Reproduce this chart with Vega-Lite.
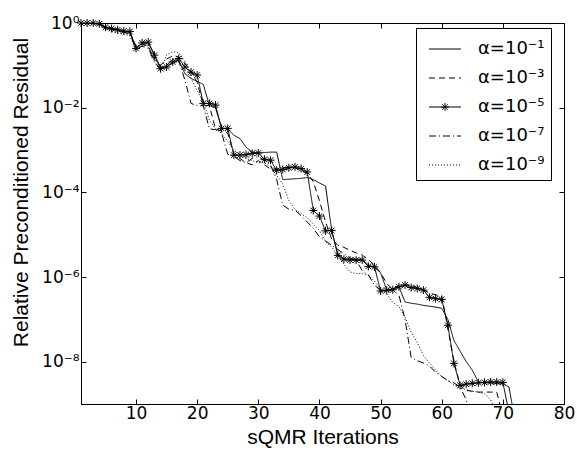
{
"$schema": "https://vega.github.io/schema/vega-lite/v6.json",
"width": 483,
"height": 381,
"autosize": {"type": "none"},
"padding": {"left": 81, "top": 23, "right": 13, "bottom": 55},
"background": "white",
"config": {
  "view": {"stroke": "black", "strokeWidth": 1},
  "font": "Liberation Sans",
  "axis": {"domainColor": "black", "tickColor": "black", "labelColor": "black", "titleColor": "black", "labelFont": "DejaVu Sans", "titleFont": "Liberation Sans", "labelFontSize": 17, "titleFontSize": 21, "titleFontWeight": "normal", "tickSize": -5, "grid": false, "labelFlush": false, "labelOverlap": false, "labelPadding": 9}
},
"data": {"values": [
{"i":1,"s":"α=10⁻¹","v":1},{"i":2,"s":"α=10⁻¹","v":1},{"i":3,"s":"α=10⁻¹","v":1},{"i":4,"s":"α=10⁻¹","v":0.955},{"i":5,"s":"α=10⁻¹","v":0.794},{"i":6,"s":"α=10⁻¹","v":0.724},{"i":7,"s":"α=10⁻¹","v":0.676},{"i":8,"s":"α=10⁻¹","v":0.631},{"i":9,"s":"α=10⁻¹","v":0.603},{"i":10,"s":"α=10⁻¹","v":0.263},
{"i":11,"s":"α=10⁻¹","v":0.331},{"i":12,"s":"α=10⁻¹","v":0.339},{"i":13,"s":"α=10⁻¹","v":0.182},{"i":14,"s":"α=10⁻¹","v":0.0891},{"i":15,"s":"α=10⁻¹","v":0.0933},{"i":16,"s":"α=10⁻¹","v":0.112},{"i":17,"s":"α=10⁻¹","v":0.132},{"i":18,"s":"α=10⁻¹","v":0.0631},{"i":19,"s":"α=10⁻¹","v":0.049},{"i":20,"s":"α=10⁻¹","v":0.0417},
{"i":21,"s":"α=10⁻¹","v":0.0355},{"i":22,"s":"α=10⁻¹","v":0.0112},{"i":23,"s":"α=10⁻¹","v":0.01},{"i":24,"s":"α=10⁻¹","v":0.00324},{"i":25,"s":"α=10⁻¹","v":0.00316},{"i":26,"s":"α=10⁻¹","v":0.00224},{"i":27,"s":"α=10⁻¹","v":0.00186},{"i":28,"s":"α=10⁻¹","v":0.00117},{"i":29,"s":"α=10⁻¹","v":8.91e-4},{"i":30,"s":"α=10⁻¹","v":8.51e-4},
{"i":31,"s":"α=10⁻¹","v":8.71e-4},{"i":32,"s":"α=10⁻¹","v":8.91e-4},{"i":33,"s":"α=10⁻¹","v":8.91e-4},{"i":34,"s":"α=10⁻¹","v":2.0e-4},{"i":35,"s":"α=10⁻¹","v":2.04e-4},{"i":36,"s":"α=10⁻¹","v":2.09e-4},{"i":37,"s":"α=10⁻¹","v":2.14e-4},{"i":38,"s":"α=10⁻¹","v":2.24e-4},{"i":39,"s":"α=10⁻¹","v":2.0e-4},{"i":40,"s":"α=10⁻¹","v":1.66e-4},
{"i":41,"s":"α=10⁻¹","v":1.41e-4},{"i":42,"s":"α=10⁻¹","v":1.26e-5},{"i":43,"s":"α=10⁻¹","v":3.55e-6},{"i":44,"s":"α=10⁻¹","v":2.69e-6},{"i":45,"s":"α=10⁻¹","v":2.63e-6},{"i":46,"s":"α=10⁻¹","v":2.63e-6},{"i":47,"s":"α=10⁻¹","v":2.63e-6},{"i":48,"s":"α=10⁻¹","v":1.91e-6},{"i":49,"s":"α=10⁻¹","v":1.7e-6},{"i":50,"s":"α=10⁻¹","v":1.26e-6},
{"i":51,"s":"α=10⁻¹","v":5.01e-7},{"i":52,"s":"α=10⁻¹","v":5.25e-7},{"i":53,"s":"α=10⁻¹","v":5.89e-7},{"i":54,"s":"α=10⁻¹","v":2.57e-7},{"i":55,"s":"α=10⁻¹","v":2.4e-7},{"i":56,"s":"α=10⁻¹","v":2.29e-7},{"i":57,"s":"α=10⁻¹","v":2.14e-7},{"i":58,"s":"α=10⁻¹","v":2.04e-7},{"i":59,"s":"α=10⁻¹","v":1.95e-7},{"i":60,"s":"α=10⁻¹","v":1.82e-7},
{"i":61,"s":"α=10⁻¹","v":1.0e-7},{"i":62,"s":"α=10⁻¹","v":3.16e-8},{"i":63,"s":"α=10⁻¹","v":1.78e-8},{"i":64,"s":"α=10⁻¹","v":1.0e-8},{"i":65,"s":"α=10⁻¹","v":6.31e-9},{"i":66,"s":"α=10⁻¹","v":3.31e-9},{"i":67,"s":"α=10⁻¹","v":3.16e-9},{"i":68,"s":"α=10⁻¹","v":3.16e-9},{"i":69,"s":"α=10⁻¹","v":3.02e-9},{"i":70,"s":"α=10⁻¹","v":3.02e-9},
{"i":71,"s":"α=10⁻¹","v":2.51e-9},{"i":72,"s":"α=10⁻¹","v":3.98e-10},

{"i":1,"s":"α=10⁻³","v":1},{"i":2,"s":"α=10⁻³","v":1},{"i":3,"s":"α=10⁻³","v":1},{"i":4,"s":"α=10⁻³","v":0.955},{"i":5,"s":"α=10⁻³","v":0.776},{"i":6,"s":"α=10⁻³","v":0.708},{"i":7,"s":"α=10⁻³","v":0.661},{"i":8,"s":"α=10⁻³","v":0.631},{"i":9,"s":"α=10⁻³","v":0.589},{"i":10,"s":"α=10⁻³","v":0.282},
{"i":11,"s":"α=10⁻³","v":0.316},{"i":12,"s":"α=10⁻³","v":0.282},{"i":13,"s":"α=10⁻³","v":0.141},{"i":14,"s":"α=10⁻³","v":0.1},{"i":15,"s":"α=10⁻³","v":0.141},{"i":16,"s":"α=10⁻³","v":0.166},{"i":17,"s":"α=10⁻³","v":0.158},{"i":18,"s":"α=10⁻³","v":0.112},{"i":19,"s":"α=10⁻³","v":0.0708},{"i":20,"s":"α=10⁻³","v":0.0398},
{"i":21,"s":"α=10⁻³","v":0.0112},{"i":22,"s":"α=10⁻³","v":0.0112},{"i":23,"s":"α=10⁻³","v":0.00316},{"i":24,"s":"α=10⁻³","v":0.00282},{"i":25,"s":"α=10⁻³","v":0.00251},{"i":26,"s":"α=10⁻³","v":7.94e-4},{"i":27,"s":"α=10⁻³","v":6.31e-4},{"i":28,"s":"α=10⁻³","v":5.01e-4},{"i":29,"s":"α=10⁻³","v":4.47e-4},{"i":30,"s":"α=10⁻³","v":5.62e-4},
{"i":31,"s":"α=10⁻³","v":4.47e-4},{"i":32,"s":"α=10⁻³","v":3.55e-4},{"i":33,"s":"α=10⁻³","v":3.55e-4},{"i":34,"s":"α=10⁻³","v":3.8e-4},{"i":35,"s":"α=10⁻³","v":3.98e-4},{"i":36,"s":"α=10⁻³","v":3.8e-4},{"i":37,"s":"α=10⁻³","v":3.31e-4},{"i":38,"s":"α=10⁻³","v":2.82e-4},{"i":39,"s":"α=10⁻³","v":1.78e-4},{"i":40,"s":"α=10⁻³","v":6.31e-5},
{"i":41,"s":"α=10⁻³","v":2.0e-5},{"i":42,"s":"α=10⁻³","v":7.94e-6},{"i":43,"s":"α=10⁻³","v":5.62e-6},{"i":44,"s":"α=10⁻³","v":5.01e-6},{"i":45,"s":"α=10⁻³","v":4.27e-6},{"i":46,"s":"α=10⁻³","v":3.72e-6},{"i":47,"s":"α=10⁻³","v":3.31e-6},{"i":48,"s":"α=10⁻³","v":2.57e-6},{"i":49,"s":"α=10⁻³","v":1.91e-6},{"i":50,"s":"α=10⁻³","v":1.26e-6},
{"i":51,"s":"α=10⁻³","v":7.08e-7},{"i":52,"s":"α=10⁻³","v":5.01e-7},{"i":53,"s":"α=10⁻³","v":6.31e-7},{"i":54,"s":"α=10⁻³","v":6.61e-7},{"i":55,"s":"α=10⁻³","v":6.31e-7},{"i":56,"s":"α=10⁻³","v":5.62e-7},{"i":57,"s":"α=10⁻³","v":5.01e-7},{"i":58,"s":"α=10⁻³","v":4.17e-7},{"i":59,"s":"α=10⁻³","v":3.8e-7},{"i":60,"s":"α=10⁻³","v":3.55e-7},
{"i":61,"s":"α=10⁻³","v":6.31e-8},{"i":62,"s":"α=10⁻³","v":1.0e-8},{"i":63,"s":"α=10⁻³","v":2.82e-9},{"i":64,"s":"α=10⁻³","v":2.09e-9},{"i":65,"s":"α=10⁻³","v":2.0e-9},{"i":66,"s":"α=10⁻³","v":1.91e-9},{"i":67,"s":"α=10⁻³","v":1.91e-9},{"i":68,"s":"α=10⁻³","v":1.91e-9},{"i":69,"s":"α=10⁻³","v":1.91e-9},{"i":70,"s":"α=10⁻³","v":5.01e-10},

{"i":1,"s":"α=10⁻⁵","v":1},{"i":2,"s":"α=10⁻⁵","v":1},{"i":3,"s":"α=10⁻⁵","v":1},{"i":4,"s":"α=10⁻⁵","v":0.955},{"i":5,"s":"α=10⁻⁵","v":0.794},{"i":6,"s":"α=10⁻⁵","v":0.741},{"i":7,"s":"α=10⁻⁵","v":0.692},{"i":8,"s":"α=10⁻⁵","v":0.646},{"i":9,"s":"α=10⁻⁵","v":0.631},{"i":10,"s":"α=10⁻⁵","v":0.251},
{"i":11,"s":"α=10⁻⁵","v":0.339},{"i":12,"s":"α=10⁻⁵","v":0.355},{"i":13,"s":"α=10⁻⁵","v":0.174},{"i":14,"s":"α=10⁻⁵","v":0.0832},{"i":15,"s":"α=10⁻⁵","v":0.0912},{"i":16,"s":"α=10⁻⁵","v":0.12},{"i":17,"s":"α=10⁻⁵","v":0.145},{"i":18,"s":"α=10⁻⁵","v":0.0912},{"i":19,"s":"α=10⁻⁵","v":0.0692},{"i":20,"s":"α=10⁻⁵","v":0.0589},
{"i":21,"s":"α=10⁻⁵","v":0.0126},{"i":22,"s":"α=10⁻⁵","v":0.0126},{"i":23,"s":"α=10⁻⁵","v":0.0115},{"i":24,"s":"α=10⁻⁵","v":0.00324},{"i":25,"s":"α=10⁻⁵","v":0.00324},{"i":26,"s":"α=10⁻⁵","v":7.59e-4},{"i":27,"s":"α=10⁻⁵","v":7.59e-4},{"i":28,"s":"α=10⁻⁵","v":7.76e-4},{"i":29,"s":"α=10⁻⁵","v":8.32e-4},{"i":30,"s":"α=10⁻⁵","v":8.51e-4},
{"i":31,"s":"α=10⁻⁵","v":6.03e-4},{"i":32,"s":"α=10⁻⁵","v":5.75e-4},{"i":33,"s":"α=10⁻⁵","v":3.31e-4},{"i":34,"s":"α=10⁻⁵","v":3.47e-4},{"i":35,"s":"α=10⁻⁵","v":3.8e-4},{"i":36,"s":"α=10⁻⁵","v":3.98e-4},{"i":37,"s":"α=10⁻⁵","v":3.63e-4},{"i":38,"s":"α=10⁻⁵","v":3.02e-4},{"i":39,"s":"α=10⁻⁵","v":3.72e-5},{"i":40,"s":"α=10⁻⁵","v":2.75e-5},
{"i":41,"s":"α=10⁻⁵","v":1.23e-5},{"i":42,"s":"α=10⁻⁵","v":1.26e-5},{"i":43,"s":"α=10⁻⁵","v":3.24e-6},{"i":44,"s":"α=10⁻⁵","v":2.63e-6},{"i":45,"s":"α=10⁻⁵","v":2.51e-6},{"i":46,"s":"α=10⁻⁵","v":2.51e-6},{"i":47,"s":"α=10⁻⁵","v":2.51e-6},{"i":48,"s":"α=10⁻⁵","v":1.78e-6},{"i":49,"s":"α=10⁻⁵","v":1.74e-6},{"i":50,"s":"α=10⁻⁵","v":4.68e-7},
{"i":51,"s":"α=10⁻⁵","v":4.9e-7},{"i":52,"s":"α=10⁻⁵","v":5.01e-7},{"i":53,"s":"α=10⁻⁵","v":5.89e-7},{"i":54,"s":"α=10⁻⁵","v":6.46e-7},{"i":55,"s":"α=10⁻⁵","v":5.62e-7},{"i":56,"s":"α=10⁻⁵","v":5.37e-7},{"i":57,"s":"α=10⁻⁵","v":4.9e-7},{"i":58,"s":"α=10⁻⁵","v":3.31e-7},{"i":59,"s":"α=10⁻⁵","v":3.09e-7},{"i":60,"s":"α=10⁻⁵","v":2.95e-7},
{"i":61,"s":"α=10⁻⁵","v":7.24e-8},{"i":62,"s":"α=10⁻⁵","v":9.12e-9},{"i":63,"s":"α=10⁻⁵","v":2.75e-9},{"i":64,"s":"α=10⁻⁵","v":2.95e-9},{"i":65,"s":"α=10⁻⁵","v":3.09e-9},{"i":66,"s":"α=10⁻⁵","v":3.16e-9},{"i":67,"s":"α=10⁻⁵","v":3.24e-9},{"i":68,"s":"α=10⁻⁵","v":3.31e-9},{"i":69,"s":"α=10⁻⁵","v":3.31e-9},{"i":70,"s":"α=10⁻⁵","v":3.24e-9},
{"i":71,"s":"α=10⁻⁵","v":6.31e-10},

{"i":1,"s":"α=10⁻⁷","v":1},{"i":2,"s":"α=10⁻⁷","v":1},{"i":3,"s":"α=10⁻⁷","v":1},{"i":4,"s":"α=10⁻⁷","v":0.933},{"i":5,"s":"α=10⁻⁷","v":0.759},{"i":6,"s":"α=10⁻⁷","v":0.692},{"i":7,"s":"α=10⁻⁷","v":0.646},{"i":8,"s":"α=10⁻⁷","v":0.603},{"i":9,"s":"α=10⁻⁷","v":0.562},{"i":10,"s":"α=10⁻⁷","v":0.24},
{"i":11,"s":"α=10⁻⁷","v":0.282},{"i":12,"s":"α=10⁻⁷","v":0.251},{"i":13,"s":"α=10⁻⁷","v":0.126},{"i":14,"s":"α=10⁻⁷","v":0.0794},{"i":15,"s":"α=10⁻⁷","v":0.1},{"i":16,"s":"α=10⁻⁷","v":0.141},{"i":17,"s":"α=10⁻⁷","v":0.126},{"i":18,"s":"α=10⁻⁷","v":0.0447},{"i":19,"s":"α=10⁻⁷","v":0.0126},{"i":20,"s":"α=10⁻⁷","v":0.0112},
{"i":21,"s":"α=10⁻⁷","v":0.0112},{"i":22,"s":"α=10⁻⁷","v":0.00316},{"i":23,"s":"α=10⁻⁷","v":0.00302},{"i":24,"s":"α=10⁻⁷","v":0.00251},{"i":25,"s":"α=10⁻⁷","v":7.94e-4},{"i":26,"s":"α=10⁻⁷","v":7.08e-4},{"i":27,"s":"α=10⁻⁷","v":5.62e-4},{"i":28,"s":"α=10⁻⁷","v":5.01e-4},{"i":29,"s":"α=10⁻⁷","v":6.31e-4},{"i":30,"s":"α=10⁻⁷","v":7.08e-4},
{"i":31,"s":"α=10⁻⁷","v":5.62e-4},{"i":32,"s":"α=10⁻⁷","v":4.47e-4},{"i":33,"s":"α=10⁻⁷","v":2.0e-4},{"i":34,"s":"α=10⁻⁷","v":5.01e-5},{"i":35,"s":"α=10⁻⁷","v":3.98e-5},{"i":36,"s":"α=10⁻⁷","v":3.8e-5},{"i":37,"s":"α=10⁻⁷","v":2.82e-5},{"i":38,"s":"α=10⁻⁷","v":2.0e-5},{"i":39,"s":"α=10⁻⁷","v":1.41e-5},{"i":40,"s":"α=10⁻⁷","v":8.91e-6},
{"i":41,"s":"α=10⁻⁷","v":7.08e-6},{"i":42,"s":"α=10⁻⁷","v":5.62e-6},{"i":43,"s":"α=10⁻⁷","v":4.47e-6},{"i":44,"s":"α=10⁻⁷","v":3.55e-6},{"i":45,"s":"α=10⁻⁷","v":2.82e-6},{"i":46,"s":"α=10⁻⁷","v":2.51e-6},{"i":47,"s":"α=10⁻⁷","v":1.41e-6},{"i":48,"s":"α=10⁻⁷","v":1.12e-6},{"i":49,"s":"α=10⁻⁷","v":6.31e-7},{"i":50,"s":"α=10⁻⁷","v":5.01e-7},
{"i":51,"s":"α=10⁻⁷","v":4.47e-7},{"i":52,"s":"α=10⁻⁷","v":5.01e-7},{"i":53,"s":"α=10⁻⁷","v":3.72e-7},{"i":54,"s":"α=10⁻⁷","v":1.0e-7},{"i":55,"s":"α=10⁻⁷","v":1.26e-8},{"i":56,"s":"α=10⁻⁷","v":1.05e-8},{"i":57,"s":"α=10⁻⁷","v":9.33e-9},{"i":58,"s":"α=10⁻⁷","v":7.94e-9},{"i":59,"s":"α=10⁻⁷","v":5.62e-9},{"i":60,"s":"α=10⁻⁷","v":4.47e-9},
{"i":61,"s":"α=10⁻⁷","v":3.55e-9},{"i":62,"s":"α=10⁻⁷","v":3.16e-9},{"i":63,"s":"α=10⁻⁷","v":2.51e-9},{"i":64,"s":"α=10⁻⁷","v":1.26e-9},{"i":65,"s":"α=10⁻⁷","v":3.16e-10},

{"i":1,"s":"α=10⁻⁹","v":1},{"i":2,"s":"α=10⁻⁹","v":1},{"i":3,"s":"α=10⁻⁹","v":1},{"i":4,"s":"α=10⁻⁹","v":0.912},{"i":5,"s":"α=10⁻⁹","v":0.724},{"i":6,"s":"α=10⁻⁹","v":0.631},{"i":7,"s":"α=10⁻⁹","v":0.575},{"i":8,"s":"α=10⁻⁹","v":0.537},{"i":9,"s":"α=10⁻⁹","v":0.501},{"i":10,"s":"α=10⁻⁹","v":0.224},
{"i":11,"s":"α=10⁻⁹","v":0.316},{"i":12,"s":"α=10⁻⁹","v":0.282},{"i":13,"s":"α=10⁻⁹","v":0.12},{"i":14,"s":"α=10⁻⁹","v":0.0759},{"i":15,"s":"α=10⁻⁹","v":0.178},{"i":16,"s":"α=10⁻⁹","v":0.209},{"i":17,"s":"α=10⁻⁹","v":0.2},{"i":18,"s":"α=10⁻⁹","v":0.126},{"i":19,"s":"α=10⁻⁹","v":0.0501},{"i":20,"s":"α=10⁻⁹","v":0.0251},
{"i":21,"s":"α=10⁻⁹","v":0.0141},{"i":22,"s":"α=10⁻⁹","v":0.00501},{"i":23,"s":"α=10⁻⁹","v":0.00316},{"i":24,"s":"α=10⁻⁹","v":0.00251},{"i":25,"s":"α=10⁻⁹","v":0.00158},{"i":26,"s":"α=10⁻⁹","v":0.001},{"i":27,"s":"α=10⁻⁹","v":7.94e-4},{"i":28,"s":"α=10⁻⁹","v":6.31e-4},{"i":29,"s":"α=10⁻⁹","v":5.62e-4},{"i":30,"s":"α=10⁻⁹","v":5.01e-4},
{"i":31,"s":"α=10⁻⁹","v":5.01e-4},{"i":32,"s":"α=10⁻⁹","v":3.98e-4},{"i":33,"s":"α=10⁻⁹","v":2.51e-4},{"i":34,"s":"α=10⁻⁹","v":1.58e-4},{"i":35,"s":"α=10⁻⁹","v":6.31e-5},{"i":36,"s":"α=10⁻⁹","v":3.98e-5},{"i":37,"s":"α=10⁻⁹","v":3.16e-5},{"i":38,"s":"α=10⁻⁹","v":2.51e-5},{"i":39,"s":"α=10⁻⁹","v":1.78e-5},{"i":40,"s":"α=10⁻⁹","v":1.26e-5},
{"i":41,"s":"α=10⁻⁹","v":6.76e-6},{"i":42,"s":"α=10⁻⁹","v":5.13e-6},{"i":43,"s":"α=10⁻⁹","v":3.24e-6},{"i":44,"s":"α=10⁻⁹","v":2.0e-6},{"i":45,"s":"α=10⁻⁹","v":1.32e-6},{"i":46,"s":"α=10⁻⁹","v":1.2e-6},{"i":47,"s":"α=10⁻⁹","v":1.2e-6},{"i":48,"s":"α=10⁻⁹","v":1.12e-6},{"i":49,"s":"α=10⁻⁹","v":7.94e-7},{"i":50,"s":"α=10⁻⁹","v":5.01e-7},
{"i":51,"s":"α=10⁻⁹","v":3.98e-7},{"i":52,"s":"α=10⁻⁹","v":2.51e-7},{"i":53,"s":"α=10⁻⁹","v":2.0e-7},{"i":54,"s":"α=10⁻⁹","v":1.12e-7},{"i":55,"s":"α=10⁻⁹","v":5.01e-8},{"i":56,"s":"α=10⁻⁹","v":2.82e-8},{"i":57,"s":"α=10⁻⁹","v":1.41e-8},{"i":58,"s":"α=10⁻⁹","v":9.33e-9},{"i":59,"s":"α=10⁻⁹","v":6.31e-9},{"i":60,"s":"α=10⁻⁹","v":4.47e-9},
{"i":61,"s":"α=10⁻⁹","v":3.55e-9},{"i":62,"s":"α=10⁻⁹","v":2.82e-9},{"i":63,"s":"α=10⁻⁹","v":2.4e-9},{"i":64,"s":"α=10⁻⁹","v":2.19e-9},{"i":65,"s":"α=10⁻⁹","v":2.0e-9},{"i":66,"s":"α=10⁻⁹","v":1.91e-9},{"i":67,"s":"α=10⁻⁹","v":1.74e-9},{"i":68,"s":"α=10⁻⁹","v":1.26e-9},{"i":69,"s":"α=10⁻⁹","v":6.31e-10}
]},
"layer": [
  {
    "mark": {"type": "line", "clip": true, "color": "black", "strokeWidth": 1},
    "encoding": {
      "x": {"field": "i", "type": "quantitative", "scale": {"domain": [1, 80], "nice": false, "zero": false},
            "axis": {"values": [10, 20, 30, 40, 50, 60, 70, 80], "title": "sQMR Iterations", "titlePadding": 5, "labelPadding": 6}},
      "y": {"field": "v", "type": "quantitative", "scale": {"type": "log", "domain": [1e-9, 1], "nice": false},
            "axis": {"values": [1e-8, 1e-6, 1e-4, 1e-2, 1], "title": "Relative Preconditioned Residual", "labelPadding": 7,
                     "titleX": -54, "titleY": 169, "titleBaseline": "alphabetic", "titleAngle": -90, "titleAlign": "center",
                     "labelExpr": "datum.value > 0.5 ? '10⁰' : datum.value > 0.005 ? '10⁻²' : datum.value > 5e-5 ? '10⁻⁴' : datum.value > 5e-7 ? '10⁻⁶' : '10⁻⁸'"}},
      "strokeDash": {"field": "s", "type": "nominal",
        "scale": {"domain": ["α=10⁻¹", "α=10⁻³", "α=10⁻⁵", "α=10⁻⁷", "α=10⁻⁹"], "range": [[1, 0], [6, 4], [1, 0], [7, 3, 1, 3], [1, 2]]},
        "legend": {"orient": "none", "legendX": 335, "legendY": 5, "title": null, "symbolType": "stroke", "symbolSize": 800,
                   "symbolStrokeWidth": 1, "symbolStrokeColor": "black", "symbolFillColor": "transparent", "symbolOffset": 8,
                   "labelFont": "DejaVu Sans", "labelFontSize": 18, "labelColor": "black", "labelOffset": 18,
                   "strokeColor": "black", "fillColor": "white", "padding": 6, "rowPadding": 5,
                   "encode": {"symbols": {"update": {"shape": {"signal": "datum.value === 'α=10⁻⁵' ? 'M-1.13,0L1.13,0M-0.28,0L0.28,0M0,-0.28L0,0.28M-0.2,-0.2L0.2,0.2M-0.2,0.2L0.2,-0.2' : 'M-1.13,0L1.13,0'"}}}}}
      },
      "order": {"field": "i"}
    }
  },
  {
    "transform": [{"filter": "datum.s === 'α=10⁻⁵' && datum.v >= 1e-9"}],
    "mark": {"type": "point", "shape": "M-1,0L1,0M0,-1L0,1M-0.7,-0.7L0.7,0.7M-0.7,0.7L0.7,-0.7", "size": 64, "filled": false, "stroke": "black", "strokeWidth": 1, "opacity": 1, "clip": false},
    "encoding": {
      "x": {"field": "i", "type": "quantitative", "axis": {"orient": "top", "values": [10, 20, 30, 40, 50, 60, 70, 80], "labels": false, "title": null}},
      "y": {"field": "v", "type": "quantitative", "axis": {"orient": "right", "values": [1e-8, 1e-6, 1e-4, 1e-2, 1], "labels": false, "title": null}}
    }
  }
],
"resolve": {"axis": {"x": "independent", "y": "independent"}}
}
